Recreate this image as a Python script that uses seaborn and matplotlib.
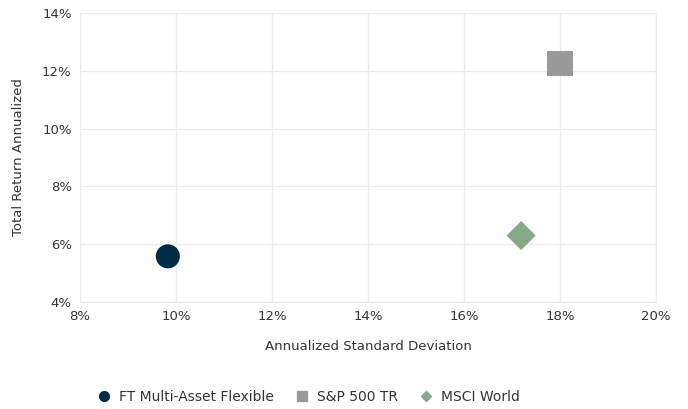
import matplotlib.pyplot as plt
from matplotlib.lines import Line2D
from matplotlib.ticker import PercentFormatter
import pandas as pd
import seaborn as sns

names = ["FT Multi-Asset Flexible", "S&P 500 TR", "MSCI World"]
std_dev = [9.83, 18.0, 17.19]
total_return = [5.58, 12.25, 6.3]
colors = ["#002b45", "#999999", "#88a986"]
markers = ["o", "s", "D"]
marker_area = [300, 325, 220]

df = pd.DataFrame({"name": names, "std": std_dev, "ret": total_return})

sns.set_style("white")
plt.rcParams["font.family"] = ["DejaVu Sans"]

fig = plt.figure(figsize=(6.88, 4.09), dpi=100)
ax = fig.add_axes([0.1163, 0.2616, 0.8372, 0.7066])

sns.scatterplot(data=df, x="std", y="ret", hue="name", style="name", size="name",
                palette=dict(zip(names, colors)), markers=dict(zip(names, markers)),
                sizes=dict(zip(names, marker_area)),
                linewidth=0, legend=False, ax=ax, zorder=3)

ax.set_xlim(8, 20)
ax.set_ylim(4, 14)
ax.set_xticks(range(8, 21, 2))
ax.set_yticks(range(4, 15, 2))
ax.xaxis.set_major_formatter(PercentFormatter(decimals=0))
ax.yaxis.set_major_formatter(PercentFormatter(decimals=0))
ax.grid(True, color="#ebebeb", linewidth=1)
for sp in ax.spines.values():
    sp.set_color("#ebebeb")
ax.tick_params(axis="both", length=0, labelsize=9.5, colors="#333333", pad=6)
ax.set_xlabel("Annualized Standard Deviation", fontsize=9.5, color="#333333", labelpad=12)
ax.set_ylabel("Total Return Annualized", fontsize=9.5, color="#333333", labelpad=12)

handles = [Line2D([], [], marker=m, color=c, linestyle="", markersize=ms)
           for m, c, ms in zip(markers, colors, [7, 7, 5])]
fig.legend(handles, names, loc="center", bbox_to_anchor=(0.447, 0.03), ncol=3,
           frameon=False, fontsize=10, labelcolor="#333333", handletextpad=0.5,
           handlelength=1.2, columnspacing=1.4)

fig.savefig("out.png", dpi=100)
